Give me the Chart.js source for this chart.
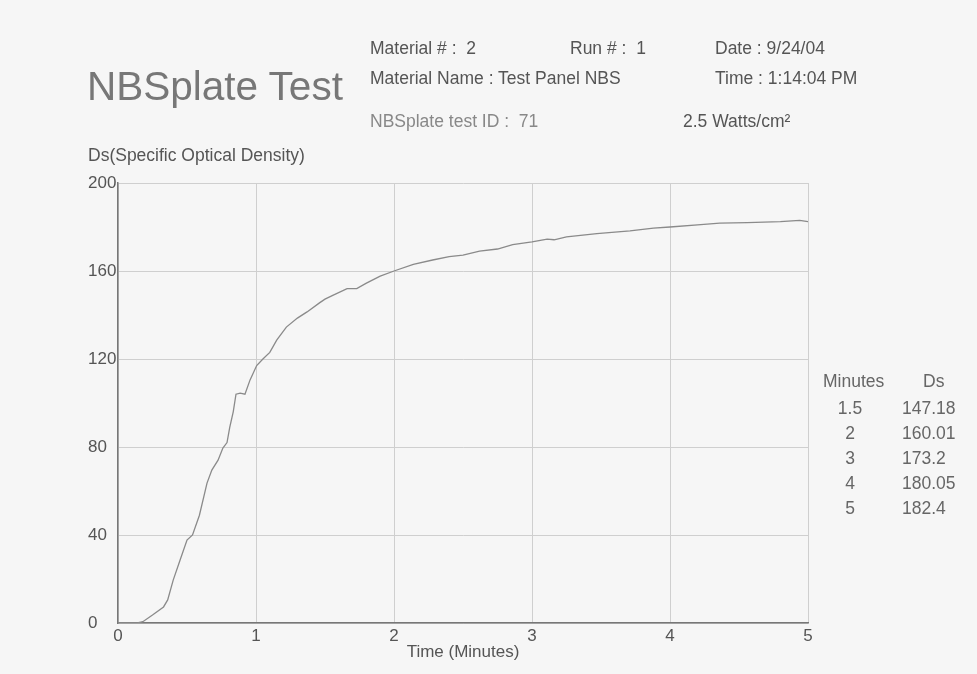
<!DOCTYPE html>
<html>
<head>
<meta charset="utf-8">
<script src="https://cdn.jsdelivr.net/npm/chart.js@4.4.1/dist/chart.umd.min.js"></script>
<style>
  body { margin: 0; background: #f6f6f6; font-family: "Liberation Sans", Arial, sans-serif; }
  #wrap { position: relative; width: 977px; height: 674px; overflow: hidden; }
  #c { position: absolute; left: 0; top: 0; }
  .t { position: absolute; font-size: 17.5px; line-height: 1; color: #555; white-space: nowrap; }
</style>
</head>
<body>
<div id="wrap">
  <canvas id="c" width="977" height="674"></canvas>
  <div class="t" style="left:87px;top:66px;font-size:40.5px;color:#777;">NBSplate Test</div>
  <div class="t" style="left:370px;top:40px;">Material # :&nbsp; 2</div>
  <div class="t" style="left:570px;top:40px;">Run # :&nbsp; 1</div>
  <div class="t" style="left:715px;top:40px;">Date : 9/24/04</div>
  <div class="t" style="left:370px;top:70px;">Material Name : Test Panel NBS</div>
  <div class="t" style="left:715px;top:70px;">Time : 1:14:04 PM</div>
  <div class="t" style="left:370px;top:113px;color:#888;">NBSplate test ID :&nbsp; 71</div>
  <div class="t" style="left:683px;top:113px;">2.5 Watts/cm²</div>
  <div class="t" style="left:88px;top:147px;">Ds(Specific Optical Density)</div>
  <div id="table"></div>
</div>
<script>
// ---- data ----
const timeMin = [0, 0.14, 0.18, 0.25, 0.33, 0.36, 0.40, 0.45, 0.50, 0.54, 0.59, 0.645, 0.68, 0.725,
  0.76, 0.79, 0.81, 0.835, 0.855, 0.885, 0.92, 0.957, 1.005, 1.05, 1.10, 1.15, 1.22, 1.30, 1.37,
  1.46, 1.50, 1.56, 1.66, 1.73, 1.80, 1.90, 2.0, 2.14, 2.28, 2.40, 2.5, 2.62, 2.75, 2.86, 3.0,
  3.11, 3.16, 3.25, 3.47, 3.71, 3.88, 4.0, 4.2, 4.36, 4.56, 4.8, 4.94, 5.0];
const dsValues = [0, 0, 0.6, 3.6, 7.3, 10.5, 19.5, 28.6, 37.7, 40, 49, 63.6, 69.5, 74,
  79.5, 82, 89, 96, 104, 104.5, 104, 110.5, 117, 120, 123, 128.6, 134.5, 138.6, 141.4,
  145.5, 147.2, 149, 152, 152, 154.5, 157.7, 160, 163, 165, 166.5, 167.2, 169, 170, 172, 173.2,
  174.5, 174.2, 175.5, 177, 178.2, 179.5, 180, 181, 181.8, 182, 182.4, 183, 182.4];

// ---- side table ----
const tableMinutes = ['1.5', '2', '3', '4', '5'];
const tableDs = ['147.18', '160.01', '173.2', '180.05', '182.4'];

// side table
const tbl = document.getElementById('table');
let html = '<div class="t" style="left:823px;top:373px;color:#666;">Minutes</div>' +
           '<div class="t" style="left:923px;top:373px;color:#666;">Ds</div>';
tableMinutes.forEach((m, i) => {
  const top = 400 + i * 25;
  html += `<div class="t" style="left:820px;width:60px;text-align:center;top:${top}px;color:#666;">${m}</div>`;
  html += `<div class="t" style="left:902px;top:${top}px;color:#666;">${tableDs[i]}</div>`;
});
tbl.innerHTML = html;

const points = timeMin.map((t, i) => ({ x: t, y: dsValues[i] }));
const tickFont = { family: '"Liberation Sans", Arial, sans-serif', size: 17 };

new Chart(document.getElementById('c'), {
  type: 'line',
  data: {
    datasets: [{
      data: points,
      borderColor: '#8a8a8a',
      borderWidth: 1.3,
      pointRadius: 0,
      tension: 0,
      fill: false
    }]
  },
  options: {
    responsive: false,
    animation: false,
    layout: { padding: { left: 88, top: 183, right: 169, bottom: 11 } },
    plugins: { legend: { display: false }, tooltip: { enabled: false } },
    scales: {
      x: {
        type: 'linear', min: 0, max: 5,
        ticks: { stepSize: 1, color: '#555', font: tickFont, padding: 3 },
        grid: { color: '#cfcfcf', drawTicks: false },
        border: { color: '#777', width: 1.5 },
        title: { display: true, text: 'Time (Minutes)', color: '#555', font: tickFont, padding: 0 },
        afterFit: s => { s.height = 40; }
      },
      y: {
        min: 0, max: 200,
        ticks: { stepSize: 40, color: '#555', font: tickFont, crossAlign: 'far' },
        grid: { color: '#cfcfcf', drawTicks: false },
        border: { color: '#777', width: 1.5 },
        afterFit: s => { s.width = 30; }
      }
    }
  }
});
</script>
</body>
</html>
